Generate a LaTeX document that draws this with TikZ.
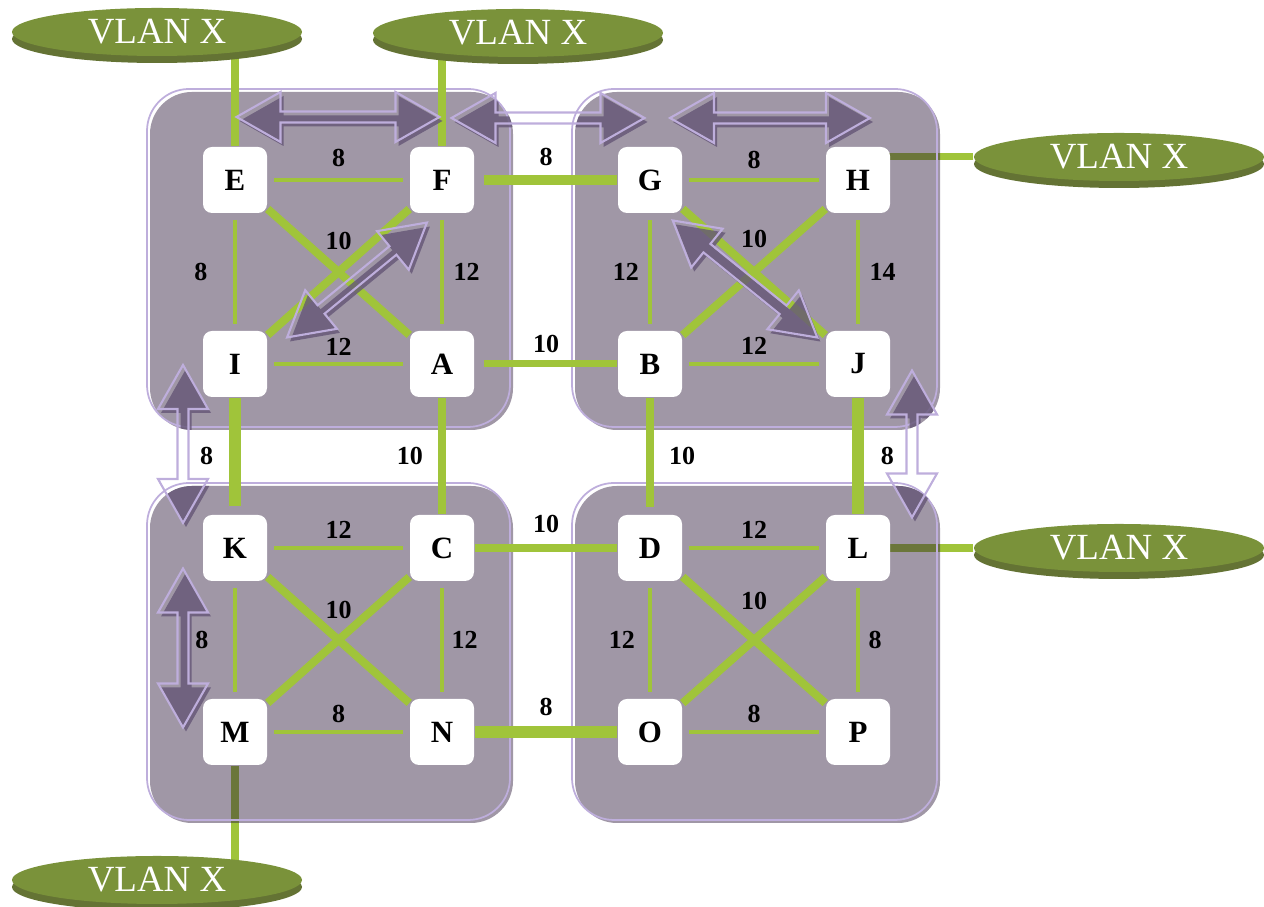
\documentclass[tikz,border=0pt]{standalone}
\usepackage{fontspec}
\setmainfont{Liberation Serif}
\usetikzlibrary{shapes.geometric, shadows}
\definecolor{linkGreen}{RGB}{160,196,58}
\definecolor{vlanTop}{RGB}{122,146,58}
\definecolor{vlanSide}{RGB}{100,115,52}
\definecolor{zoneFill}{RGB}{44,24,58}
\definecolor{zoneLine}{RGB}{190,174,220}
\definecolor{arrowFill}{RGB}{100,86,118}
\pgfdeclarelayer{bottom}
\pgfdeclarelayer{zones}
\pgfdeclarelayer{links}
\pgfdeclarelayer{arrows}
\pgfsetlayers{bottom,zones,links,arrows,main}

\tikzset{
	switch/.style={fill=white, rounded corners=0.09cm, minimum width=0.64cm, minimum height=0.66cm, inner sep=0pt, font=\bfseries\fontsize{8.8}{10}\selectfont},
	vlan/.style={ellipse, fill=vlanTop, text=white, minimum width=2.9cm, minimum height=0.48cm, inner sep=0pt, font=\fontsize{10.5}{11}\selectfont, general shadow={fill=vlanSide, shadow yshift=-0.07cm}},
	lbl/.style={inner sep=0pt, text=black, font=\bfseries\fontsize{7.4}{8}\selectfont},
	thinlink/.style={linkGreen, line width=0.9pt, shorten <=0.06cm, shorten >=0.06cm},
	crosslink/.style={linkGreen, line width=2.3pt},
	trunk/.style={linkGreen, line width=2pt},
	uplink/.style={linkGreen, line width=2pt},
	pics/fatarrow/.style={code={
		\path[pic actions] (-#1/2,0) -- (-#1/2+0.44,0.25) -- (-#1/2+0.44,0.055) -- (#1/2-0.44,0.055) -- (#1/2-0.44,0.25) -- (#1/2,0) -- (#1/2-0.44,-0.25) -- (#1/2-0.44,-0.055) -- (-#1/2+0.44,-0.055) -- (-#1/2+0.44,-0.25) -- cycle;
	}}
}

% the eight fat double arrows
\newcommand\fatarrows[1]{%
	\pic[#1] at (3.38,7.90) {fatarrow=2.03};
	\pic[#1] at (5.48,7.89) {fatarrow=1.93};
	\pic[#1] at (7.70,7.89) {fatarrow=2.00};
	\pic[#1, rotate=39.4] at (3.57,6.27) {fatarrow=1.81};
	\pic[#1, rotate=-39] at (7.45,6.28) {fatarrow=1.86};
	\pic[#1, rotate=90] at (1.83,4.63) {fatarrow=1.58};
	\pic[#1, rotate=90] at (9.12,4.63) {fatarrow=1.47};
	\pic[#1, rotate=90] at (1.83,2.59) {fatarrow=1.59};
}

\begin{document}
\begin{tikzpicture}
	\useasboundingbox (0,0) rectangle (12.64,9.07);
	% switches
	\foreach \n/\x/\y in {E/2.35/7.27, F/4.42/7.27, I/2.35/5.43, A/4.42/5.43,
		G/6.50/7.27, H/8.58/7.27, B/6.50/5.43, J/8.58/5.43,
		K/2.35/3.59, C/4.42/3.59, M/2.35/1.75, N/4.42/1.75,
		D/6.50/3.59, L/8.58/3.59, O/6.50/1.75, P/8.58/1.75}
		\node[switch] (\n) at (\x,\y) {\n};
	% VLAN discs
	\node[vlan] (v1) at (1.57,8.75) {VLAN X};
	\node[vlan] (v2) at (5.18,8.74) {VLAN X};
	\node[vlan] (v3) at (11.19,7.50) {VLAN X};
	\node[vlan] (v4) at (11.19,3.59) {VLAN X};
	\node[vlan] (v5) at (1.57,0.27) {VLAN X};
	% zones
	\begin{pgfonlayer}{zones}
		\foreach \x/\y/\X/\Y in {1.50/4.77/5.13/8.15, 5.75/4.77/9.40/8.15, 1.50/0.84/5.13/4.21, 5.75/0.84/9.40/4.21} {
			\fill[zoneFill, fill opacity=0.45, rounded corners=0.42cm] (\x,\y) rectangle (\X,\Y);
			\draw[zoneLine, line width=0.5pt, rounded corners=0.42cm, xshift=-0.03cm, yshift=0.03cm] (\x,\y) rectangle (\X,\Y);
		}
	\end{pgfonlayer}
	% uplinks under the zones
	\begin{pgfonlayer}{bottom}
		\draw[uplink] (v3) -- (v3 -| H);
		\draw[uplink] (v4) -- (v4 -| L);
		\draw[uplink] (M) -- (M |- v5);
	\end{pgfonlayer}
	\begin{pgfonlayer}{links}
		\draw[uplink] (E) -- (E |- v1);
		\draw[uplink] (F) -- (F |- v2);
		% zone E F I A
		\draw[thinlink] (E) -- node[lbl, above=0.12cm] {8} (F);
		\draw[thinlink] (E) -- node[lbl, left=0.26cm] {8} (I);
		\draw[thinlink] (F) -- node[lbl, right=0.10cm] {12} (A);
		\draw[thinlink] (I) -- node[lbl, above=0.065cm] {12} (A);
		\draw[crosslink] (E) -- node[lbl, above=0.18cm] {10} (A);
		\draw[crosslink] (I) -- (F);
		% zone G H B J
		\draw[thinlink] (G) -- node[lbl, above=0.095cm] {8} (H);
		\draw[thinlink] (G) -- node[lbl, left=0.095cm] {12} (B);
		\draw[thinlink] (H) -- node[lbl, right=0.10cm] {14} (J);
		\draw[thinlink] (B) -- node[lbl, above=0.075cm] {12} (J);
		\draw[crosslink] (B) -- node[lbl, above=0.20cm] {10} (H);
		\draw[crosslink] (G) -- (J);
		% zone K C M N
		\draw[thinlink] (K) -- node[lbl, above=0.075cm] {12} (C);
		\draw[thinlink] (K) -- node[lbl, left=0.25cm] {8} (M);
		\draw[thinlink] (C) -- node[lbl, right=0.08cm] {12} (N);
		\draw[thinlink] (M) -- node[lbl, above=0.075cm] {8} (N);
		\draw[crosslink] (K) -- node[lbl, above=0.17cm] {10} (N);
		\draw[crosslink] (M) -- (C);
		% zone D L O P
		\draw[thinlink] (D) -- node[lbl, above=0.075cm] {12} (L);
		\draw[thinlink] (D) -- node[lbl, left=0.135cm] {12} (O);
		\draw[thinlink] (L) -- node[lbl, right=0.09cm] {8} (P);
		\draw[thinlink] (O) -- node[lbl, above=0.075cm] {8} (P);
		\draw[crosslink] (D) -- node[lbl, above=0.265cm] {10} (P);
		\draw[crosslink] (O) -- (L);
		% links between zones
		\draw[trunk, line width=2.6pt, shorten <=0.09cm] (F) -- node[lbl, above=0.095cm] {8} (G);
		\draw[trunk, shorten <=0.09cm] (A) -- node[lbl, above=0.075cm] {10} (B);
		\draw[trunk, line width=3.4pt, shorten >=0.08cm] (I) -- node[lbl, left=0.16cm] {8} (K);
		\draw[trunk] (A) -- node[lbl, left=0.155cm] {10} (C);
		\draw[trunk, shorten >=0.07cm] (B) -- node[lbl, right=0.155cm] {10} (D);
		\draw[trunk, line width=3.4pt] (J) -- node[lbl, right=0.17cm] {8} (L);
		\draw[trunk, line width=2.2pt] (C) -- node[lbl, above=0.115cm] {10} (D);
		\draw[trunk, line width=3.2pt] (N) -- node[lbl, above=0.105cm] {8} (O);
	\end{pgfonlayer}
	% fat arrows, dark only over the zones
	\begin{pgfonlayer}{arrows}
		\begin{scope}
			\clip[rounded corners=0.42cm] (1.50,4.77) rectangle (5.13,8.15) (5.75,4.77) rectangle (9.40,8.15) (1.50,0.84) rectangle (5.13,4.21) (5.75,0.84) rectangle (9.40,4.21);
			\begin{scope}[shift={(0.03,-0.04)}, fill opacity=0.8]
				\fatarrows{fill=arrowFill}
			\end{scope}
		\end{scope}
		\begin{scope}[line width=0.6pt]
			\fatarrows{draw=zoneLine}
		\end{scope}
	\end{pgfonlayer}
\end{tikzpicture}
\end{document}
